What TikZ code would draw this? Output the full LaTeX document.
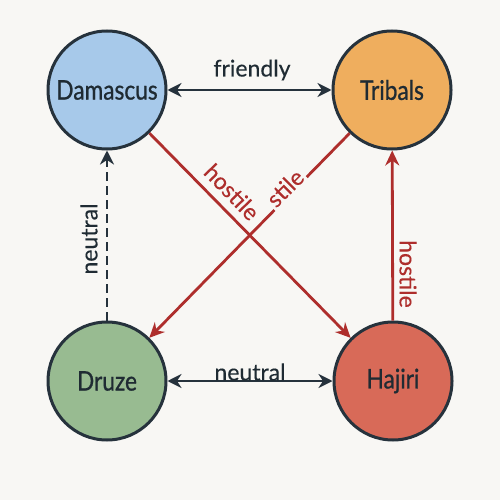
\documentclass[tikz,border=0pt]{standalone}
\usepackage{fontspec}
\setmainfont{Lato}
\newfontfamily\nodefont[FakeStretch=0.84,FakeBold=0.8]{Lato}
\newfontfamily\lblfont[FakeBold=0.3]{Lato}
\usetikzlibrary{arrows.meta}
\definecolor{bg}{HTML}{F8F7F4}
\definecolor{edge}{HTML}{26323C}
\definecolor{redl}{HTML}{AE2E2C}
\definecolor{cblue}{HTML}{A7C9EA}
\definecolor{corange}{HTML}{EFAE5E}
\definecolor{cgreen}{HTML}{98BB91}
\definecolor{cred}{HTML}{D86A58}
\definecolor{txt}{HTML}{1F2B33}
\tikzset{
  faction/.style={circle, draw=edge, line width=3pt, minimum size=118pt, inner sep=0pt,
    text=txt, font=\nodefont\fontsize{27}{29}\selectfont},
  darkarrow/.style={draw=edge, line width=2.8pt, -{Stealth[length=14pt,width=14pt]}},
  darkboth/.style={draw=edge, line width=2.8pt, {Stealth[length=14pt,width=14pt]}-{Stealth[length=14pt,width=14pt]}},
  redarrow/.style={draw=redl, line width=2.8pt, -{Stealth[length=15pt,width=14pt]}},
  lbl/.style={font=\lblfont\fontsize{23}{26}\selectfont, text=txt},
  rlbl/.style={font=\lblfont\fontsize{23}{26}\selectfont, text=redl, inner sep=0.5pt},
}
\begin{document}
\begin{tikzpicture}[x=1pt,y=-1pt]
\fill[bg] (0,0) rectangle (500,500);
\useasboundingbox (0,0) rectangle (500,500);
\node[faction, fill=cblue] (dam) at (107,90) {Damascus};
\node[faction, fill=corange] (tri) at (392,90) {Tribals};
\node[faction, fill=cgreen] (dru) at (107,381) {Druze};
\node[faction, fill=cred] (haj) at (393,381) {Hajiri};
\draw[darkboth] (dam) -- (tri);
\draw[darkboth] (dru) -- (haj);
\draw[darkarrow, dash pattern=on 9pt off 5pt] (dru) -- (dam);
\draw[redarrow] (haj) -- (tri);
\draw[redarrow] (dam) -- (haj);
\draw[redarrow] (tri) -- (dru);
\node[lbl] (lf) at (252,70) {friendly};
\node[lbl] (ln) at (250,372) {neutral};
\node[lbl, rotate=90] (lv) at (89,239) {neutral};
\node[rlbl, rotate=-90] (lh) at (408,274) {hostile};
\node[rlbl, rotate=-46] (ld) at (232,192) {hostile};
\node[rlbl, rotate=45, fill=bg, inner sep=2pt] (ls) at (285,188) {stile};
\end{tikzpicture}
\end{document}
